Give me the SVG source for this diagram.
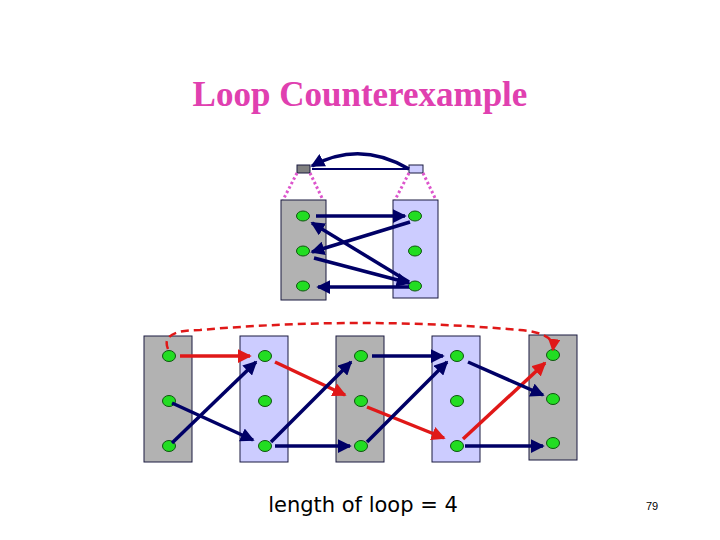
<svg xmlns="http://www.w3.org/2000/svg" width="720" height="540" viewBox="0 0 720 540">
<style>
.g{fill:#b2b2b2;stroke:#1a1a40;stroke-width:1}
.l{fill:#ccccff;stroke:#1a1a40;stroke-width:1}
.n{fill:#22dd22;stroke:#115511;stroke-width:1}
.b{stroke:#000066;stroke-width:3.5;fill:none;marker-end:url(#hb)}
.r{stroke:#e01818;stroke-width:3.5;fill:none;marker-end:url(#hr)}
.d{stroke:#dd55cc;stroke-width:3;stroke-dasharray:2.5 2.5;fill:none}
</style>
<defs>
<marker id="hb" markerWidth="4" markerHeight="4" refX="3.5" refY="2" orient="auto"><path d="M0,0L4,2L0,4z" fill="#000066"/></marker>
<marker id="hr" markerWidth="4" markerHeight="4" refX="3.5" refY="2" orient="auto"><path d="M0,0L4,2L0,4z" fill="#e01818"/></marker>
<marker id="hrd" markerWidth="5" markerHeight="5" refX="4" refY="2.5" orient="auto"><path d="M0,0L5,2.5L0,5z" fill="#e01818"/></marker>
</defs>
<rect width="720" height="540" fill="#fff"/>
<text x="360" y="106" text-anchor="middle" font-family="Liberation Serif, serif" font-weight="bold" font-size="35" fill="#e040b0">Loop Counterexample</text>
<g id="top">
<rect x="297" y="165" width="13" height="8" style="fill:#808080;stroke:#1a1a40"/>
<rect class="l" x="409" y="165" width="14" height="8"/>
<path class="d" d="M297,173L283,200M310,173L323,200M409,173L395,200M423,173L436,200"/>
<rect class="g" x="281" y="200" width="45" height="100"/>
<rect class="l" x="393" y="200" width="45" height="98"/>
<g id="tn"><ellipse class="n" cx="303" cy="216" rx="6.5" ry="5"/><ellipse class="n" cx="303" cy="251" rx="6.5" ry="5"/><ellipse class="n" cx="303" cy="286" rx="6.5" ry="5"/><ellipse class="n" cx="415" cy="216" rx="6.5" ry="5"/><ellipse class="n" cx="415" cy="251" rx="6.5" ry="5"/><ellipse class="n" cx="415" cy="286" rx="6.5" ry="5"/></g>
</g>
<g id="bottom">
<rect class="g" x="144" y="336" width="48" height="126"/>
<rect class="l" x="240" y="336" width="48" height="126"/>
<rect class="g" x="336" y="336" width="48" height="126"/>
<rect class="l" x="432" y="336" width="48" height="126"/>
<rect class="g" x="529" y="335" width="48" height="125"/>
<g id="bn">
<ellipse class="n" cx="169" cy="356" rx="6.5" ry="5.5"/><ellipse class="n" cx="169" cy="401" rx="6.5" ry="5.5"/><ellipse class="n" cx="169" cy="446" rx="6.5" ry="5.5"/>
<ellipse class="n" cx="265" cy="356" rx="6.5" ry="5.5"/><ellipse class="n" cx="265" cy="401" rx="6.5" ry="5.5"/><ellipse class="n" cx="265" cy="446" rx="6.5" ry="5.5"/>
<ellipse class="n" cx="361" cy="356" rx="6.5" ry="5.5"/><ellipse class="n" cx="361" cy="401" rx="6.5" ry="5.5"/><ellipse class="n" cx="361" cy="446" rx="6.5" ry="5.5"/>
<ellipse class="n" cx="457" cy="356" rx="6.5" ry="5.5"/><ellipse class="n" cx="457" cy="401" rx="6.5" ry="5.5"/><ellipse class="n" cx="457" cy="446" rx="6.5" ry="5.5"/>
<ellipse class="n" cx="553" cy="355" rx="6.5" ry="5.5"/><ellipse class="n" cx="553" cy="399" rx="6.5" ry="5.5"/><ellipse class="n" cx="553" cy="443" rx="6.5" ry="5.5"/>
</g>
</g>
<g id="connectors">
<path class="b" d="M409,169Q360,140 312,166"/>
<path d="M312,169L409,169" stroke="#000066" stroke-width="2"/>
<path class="b" d="M316,216L405,216"/>
<path class="b" d="M410,222L312,252"/>
<path class="b" d="M409,282L312,223"/>
<path class="b" d="M314,258L409,283"/>
<path class="b" d="M409,287L318,287"/>
<path class="r" d="M180,356L250,356"/>
<path class="r" d="M275,362L345,395"/>
<path class="r" d="M367,407L444,438"/>
<path class="r" d="M463,439L545,363"/>
<path class="b" d="M172,443L256,362"/>
<path class="b" d="M172,403L253,440"/>
<path class="b" d="M271,442L351,362"/>
<path class="b" d="M275,446L350,446"/>
<path class="b" d="M367,442L447,362"/>
<path class="b" d="M372,356L443,356"/>
<path class="b" d="M468,362L543,395"/>
<path class="b" d="M465,446L543,446"/>
<path d="M168,349Q160,330 200,330Q360,316 520,330Q555,333 553,349" stroke="#e01818" stroke-width="2.5" stroke-dasharray="8 5" fill="none" marker-end="url(#hrd)"/>
</g>
<text x="363" y="512" text-anchor="middle" font-family="DejaVu Sans, sans-serif" font-size="21" fill="#000">length of loop = 4</text>
<text x="652" y="510" text-anchor="middle" font-family="Liberation Sans, sans-serif" font-size="11" fill="#000">79</text>
</svg>
